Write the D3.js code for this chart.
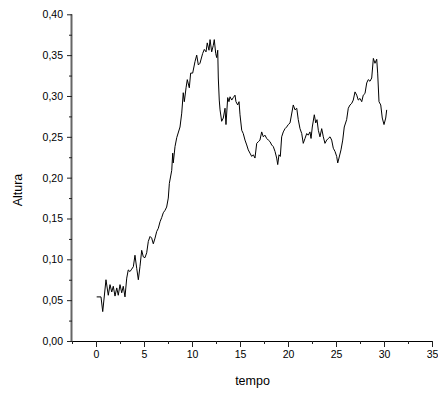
<!DOCTYPE html>
<html>
<head>
<meta charset="utf-8">
<script src="https://cdn.jsdelivr.net/npm/d3@7"></script>
<style>
  html, body { margin: 0; padding: 0; background: #fff; }
  svg { display: block; }
  text { font-family: "Liberation Sans", Arial, sans-serif; fill: #000; }
</style>
</head>
<body>
<svg id="chart" width="438" height="394"></svg>
<script>
// tempo (x) and altura (y) of the recorded series
const tempo = [
  0.07, 0.52, 0.70, 1.04, 1.28, 1.46, 1.64, 1.80, 1.98, 2.16,
  2.32, 2.50, 2.68, 2.84, 3.02, 3.20, 3.36, 3.54, 3.72, 3.89,
  4.06, 4.24, 4.41, 4.58, 4.76, 4.93, 5.10, 5.28, 5.45, 5.63,
  5.80, 5.97, 6.15, 6.32, 6.49, 6.67, 6.84, 7.01, 7.19, 7.36,
  7.53, 7.64, 7.89, 7.99, 8.05, 8.23, 8.41, 8.75, 8.93, 9.09,
  9.20, 9.38, 9.51, 9.72, 9.86, 10.07, 10.31, 10.49, 10.66, 10.83,
  11.11, 11.28, 11.46, 11.59, 11.77, 11.88, 12.05, 12.22, 12.32, 12.47,
  12.57, 12.68, 12.74, 12.84, 12.92, 13.09, 13.26, 13.44, 13.54, 13.72,
  13.85, 13.96, 14.14, 14.30, 14.48, 14.58, 14.76, 14.90, 15.00, 15.18,
  15.34, 15.52, 15.70, 15.86, 16.04, 16.22, 16.39, 16.56, 16.74, 16.91,
  17.08, 17.26, 17.43, 17.60, 17.78, 17.95, 18.13, 18.30, 18.47, 18.65,
  18.82, 18.93, 19.06, 19.20, 19.34, 19.51, 19.69, 19.86, 20.03, 20.21,
  20.55, 20.73, 20.91, 21.07, 21.25, 21.43, 21.59, 21.77, 21.95, 22.11,
  22.29, 22.40, 22.53, 22.74, 22.89, 23.02, 23.16, 23.33, 23.51, 23.68,
  23.85, 24.03, 24.20, 24.38, 24.55, 24.72, 24.90, 25.07, 25.18, 25.31,
  25.52, 25.70, 25.86, 26.11, 26.28, 26.46, 26.64, 26.80, 26.98, 27.16,
  27.32, 27.50, 27.68, 27.84, 28.02, 28.20, 28.36, 28.54, 28.72, 28.89,
  29.06, 29.24, 29.34, 29.48, 29.66, 29.82, 30.00, 30.18, 30.28
];
const altura = [
  0.054, 0.054, 0.036, 0.075, 0.056, 0.069, 0.060, 0.067, 0.055, 0.065,
  0.056, 0.069, 0.059, 0.067, 0.054, 0.077, 0.087, 0.085, 0.088, 0.091,
  0.105, 0.089, 0.075, 0.091, 0.111, 0.103, 0.102, 0.108, 0.122, 0.128,
  0.126, 0.119, 0.126, 0.134, 0.138, 0.146, 0.151, 0.157, 0.160, 0.164,
  0.175, 0.193, 0.209, 0.230, 0.218, 0.238, 0.249, 0.262, 0.279, 0.304,
  0.293, 0.310, 0.320, 0.310, 0.328, 0.328, 0.342, 0.350, 0.338, 0.340,
  0.352, 0.357, 0.354, 0.365, 0.356, 0.369, 0.354, 0.362, 0.369, 0.352,
  0.347, 0.356, 0.322, 0.295, 0.283, 0.269, 0.273, 0.285, 0.265, 0.298,
  0.293, 0.299, 0.295, 0.298, 0.301, 0.293, 0.289, 0.293, 0.277, 0.258,
  0.254, 0.246, 0.240, 0.234, 0.230, 0.226, 0.228, 0.224, 0.242, 0.244,
  0.246, 0.256, 0.250, 0.252, 0.248, 0.246, 0.244, 0.240, 0.238, 0.232,
  0.224, 0.216, 0.228, 0.226, 0.250, 0.256, 0.260, 0.262, 0.265, 0.267,
  0.289, 0.283, 0.285, 0.271, 0.260, 0.254, 0.242, 0.248, 0.254, 0.252,
  0.256, 0.248, 0.262, 0.277, 0.267, 0.271, 0.258, 0.250, 0.260, 0.250,
  0.242, 0.246, 0.248, 0.250, 0.246, 0.236, 0.232, 0.226, 0.218, 0.224,
  0.234, 0.246, 0.262, 0.271, 0.285, 0.289, 0.291, 0.295, 0.305, 0.301,
  0.295, 0.297, 0.293, 0.301, 0.303, 0.316, 0.320, 0.318, 0.322, 0.346,
  0.340, 0.345, 0.328, 0.293, 0.289, 0.273, 0.265, 0.273, 0.283
];
const xMajorTicks = [0, 5, 10, 15, 20, 25, 30, 35];
const xMinorTicks = [-2.5, 2.5, 7.5, 12.5, 17.5, 22.5, 27.5, 32.5];
const yMajorTicks = [0, 0.05, 0.10, 0.15, 0.20, 0.25, 0.30, 0.35, 0.40];
const yMinorTicks = [0.025, 0.075, 0.125, 0.175, 0.225, 0.275, 0.325, 0.375];

const svg = d3.select("#chart");
const plotLeft = 72, plotRight = 432, plotTop = 14.3, plotBottom = 341;

const x = d3.scaleLinear().domain([-2.5, 35]).range([plotLeft, plotRight]);
const y = d3.scaleLinear().domain([0, 0.40]).range([plotBottom, plotTop]);

const commaFmt = v => d3.format(".2f")(v).replace(".", ",");

// x axis: major ticks with labels, minor ticks without
const gx = svg.append("g").attr("transform", `translate(0,${plotBottom})`);
gx.call(d3.axisBottom(x).tickValues(xMajorTicks).tickSize(6).tickPadding(4).tickFormat(d3.format("d")));
svg.append("g").attr("transform", `translate(0,${plotBottom})`)
  .call(d3.axisBottom(x).tickValues(xMinorTicks).tickSize(3).tickFormat(""))
  .select(".domain").remove();
gx.select(".domain").attr("d", `M${plotLeft},0.5H${plotRight}`).attr("stroke", "#000").attr("stroke-width", 1.2);

// y axis
const gy = svg.append("g").attr("transform", `translate(${plotLeft},0)`);
gy.call(d3.axisLeft(y).tickValues(yMajorTicks).tickSize(5).tickPadding(4).tickFormat(commaFmt));
svg.append("g").attr("transform", `translate(${plotLeft},0)`)
  .call(d3.axisLeft(y).tickValues(yMinorTicks).tickSize(3).tickFormat(""))
  .select(".domain").remove();
gy.select(".domain").attr("d", `M-0.5,${plotTop}V${plotBottom}`).attr("stroke", "#666").attr("stroke-width", 2);

svg.selectAll(".tick line").attr("stroke", "#222");
svg.selectAll(".tick text")
  .style("font-family", '"Liberation Sans", Arial, sans-serif')
  .style("font-size", "10.5px")
  .attr("fill", "#111");

// series line
const pts = tempo.map((t, i) => [t, altura[i]]);
svg.append("path")
  .datum(pts)
  .attr("fill", "none")
  .attr("stroke", "#000")
  .attr("stroke-width", 1)
  .attr("stroke-linejoin", "round")
  .attr("d", d3.line().x(d => x(d[0])).y(d => y(d[1])));

// axis titles
svg.append("text")
  .attr("x", 252.5).attr("y", 385)
  .attr("text-anchor", "middle")
  .style("font-size", "12.5px")
  .text("tempo");

svg.append("text")
  .attr("transform", "translate(22,190) rotate(-90)")
  .attr("text-anchor", "middle")
  .style("font-size", "12.5px")
  .text("Altura");
</script>
</body>
</html>
